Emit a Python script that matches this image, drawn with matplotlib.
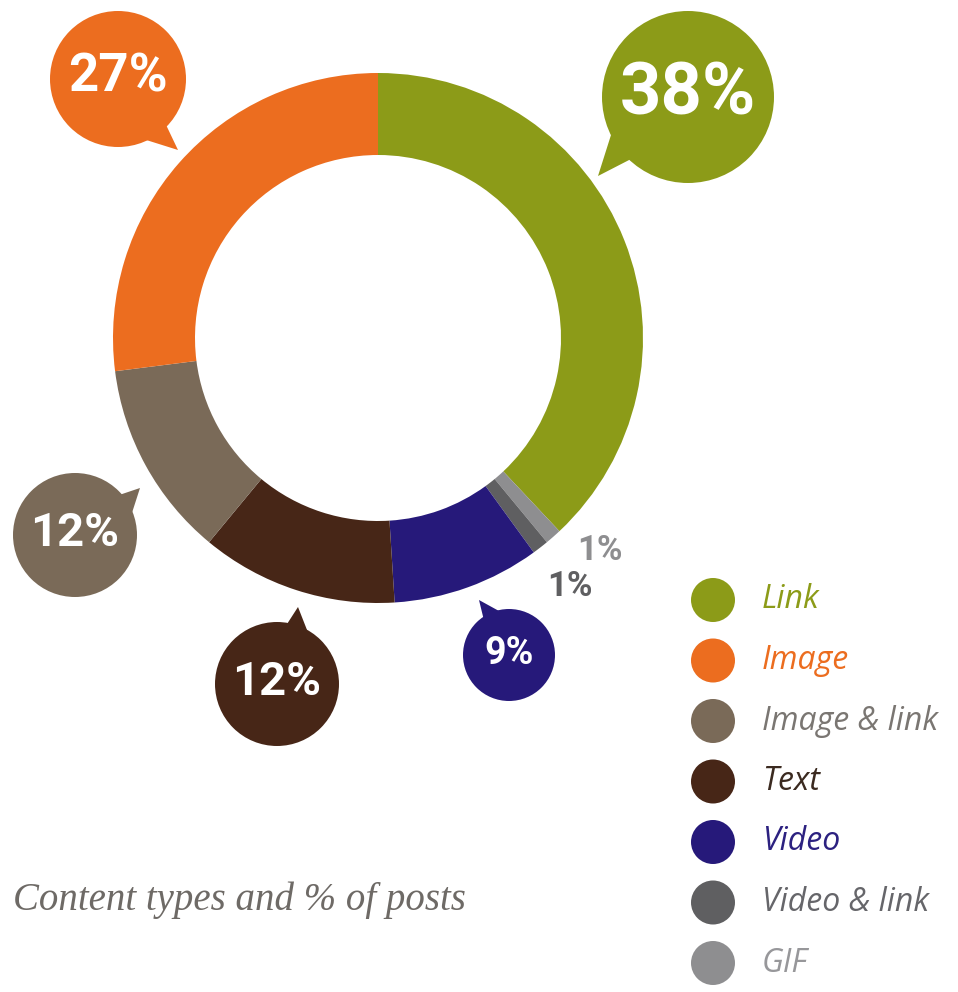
import numpy as np
import matplotlib.pyplot as plt
from matplotlib.patches import Circle, Polygon

# content types, share of posts (%), clockwise from 12 o'clock
labels = ["Link", "GIF", "Video & link", "Video", "Text", "Image & link", "Image"]
shares = [38, 1, 1, 9, 12, 12, 27]
colors = ["#8c9b18", "#8e8e90", "#5f5f61", "#26197a", "#472617", "#7a6a58", "#ec6d1f"]

# legend order
legend_labels = ["Link", "Image", "Image & link", "Text", "Video", "Video & link", "GIF"]
legend_text_colors = ["#8c9b18", "#ec6d1f", "#7a7672", "#3b2a20", "#2c2180", "#66666a", "#97979a"]

W, H = 958, 992


def Y(y):
    # work in pixel rows counted from the top
    return H - y


fig = plt.figure(figsize=(W / 100, H / 100), dpi=100)
ax = fig.add_axes([0, 0, 1, 1])
ax.set_xlim(0, W)
ax.set_ylim(0, H)
ax.set_aspect("equal")
ax.axis("off")

# donut
cx, cy, R = 378, Y(338), 265
ax.pie(shares, colors=colors, startangle=90, counterclock=False,
       center=(cx, cy), radius=R,
       wedgeprops=dict(width=82, linewidth=0, edgecolor="none"))
ax.set_xlim(0, W)
ax.set_ylim(0, H)

# speech bubbles: (label, centre x, centre y, radius, tail tip x, tail tip y, font size)
bubbles = [
    ("Link", 688, 97, 86, 598, 176, 52),
    ("Image", 118, 79, 68, 178, 150, 38),
    ("Image & link", 75, 535, 62, 140, 488, 34),
    ("Text", 277, 684, 62, 298, 607, 34),
    ("Video", 509, 655, 46, 479, 600, 27),
]
for name, bx, by, br, tx, ty, fs in bubbles:
    i = labels.index(name)
    c = colors[i]
    ang = np.arctan2(Y(ty) - Y(by), tx - bx)
    a1, a2 = ang - np.radians(22), ang + np.radians(8)
    tail = Polygon([(bx + br * 0.9 * np.cos(a1), Y(by) + br * 0.9 * np.sin(a1)),
                    (tx, Y(ty)),
                    (bx + br * 0.9 * np.cos(a2), Y(by) + br * 0.9 * np.sin(a2))],
                   closed=True, facecolor=c, edgecolor="none")
    ax.add_patch(tail)
    ax.add_patch(Circle((bx, Y(by)), br, facecolor=c, edgecolor="none"))
    ax.text(bx, Y(by) + 2, f"{shares[i]}%", ha="center", va="center",
            fontsize=fs, fontweight="bold", color="white",
            family=["Roboto", "DejaVu Sans"])

# the two small slices get plain labels
ax.text(600, Y(551), f"{shares[labels.index('GIF')]}%", ha="center", va="center",
        fontsize=25, fontweight="bold", color="#8e8e90", family=["Roboto", "DejaVu Sans"])
ax.text(570, Y(587), f"{shares[labels.index('Video & link')]}%", ha="center", va="center",
        fontsize=25, fontweight="bold", color="#5f5f61", family=["Roboto", "DejaVu Sans"])

# legend
for k, (lab, tc) in enumerate(zip(legend_labels, legend_text_colors)):
    ly = Y(600 + k * 60.5)
    ax.add_patch(Circle((713, ly), 22, facecolor=colors[labels.index(lab)], edgecolor="none"))
    ax.text(762, ly, lab, ha="left", va="center", fontsize=23, style="italic",
            color=tc, family=["Open Sans", "DejaVu Sans"])

# caption
ax.text(13, Y(900), "Content types and % of posts", ha="left", va="center",
        fontsize=28, style="italic", color="#6e6a66", family=["Liberation Serif", "DejaVu Serif"])

fig.savefig("out.png", dpi=100, facecolor="white")
